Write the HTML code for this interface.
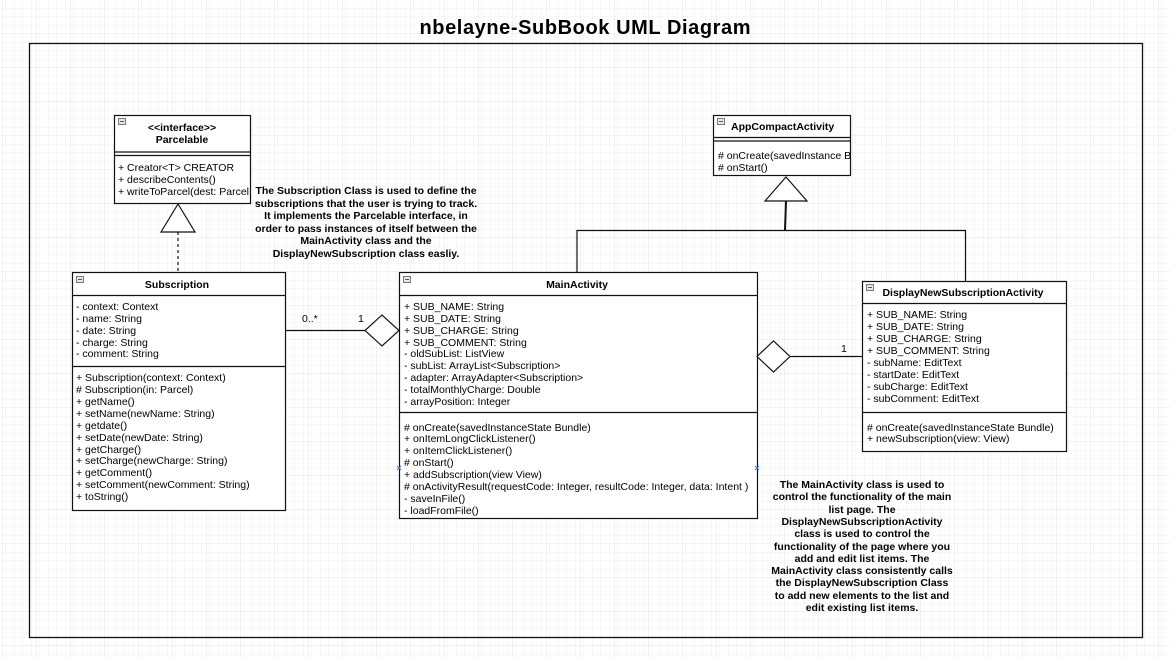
<!DOCTYPE html>
<html><head><meta charset="utf-8"><style>
html,body{margin:0;padding:0;background:#fff}
svg{display:block}
text{font-family:"Liberation Sans",Arial,sans-serif;font-size:10.5px;fill:#000}
.b{font-weight:bold}
</style></head><body>
<svg width="1170" height="658" viewBox="0 0 1170 658" xmlns="http://www.w3.org/2000/svg">
<defs>
<pattern id="mi" width="8.5" height="8.5" patternUnits="userSpaceOnUse" x="3" y="0">
<path d="M8.5 0V8.5M0 8.5H8.5" fill="none" stroke="#f1f1f1" stroke-width="1"/>
</pattern>
<pattern id="ma" width="34" height="34" patternUnits="userSpaceOnUse" x="3" y="0">
<rect width="34" height="34" fill="url(#mi)"/>
<path d="M34 0V34M0 34H34" fill="none" stroke="#e4e4e4" stroke-width="1"/>
</pattern>
<g id="ico"><rect x="0.5" y="0.5" width="7" height="6" fill="#e8e8e8" stroke="#777" stroke-width="1"/><line x1="2" y1="3.5" x2="6" y2="3.5" stroke="#555"/></g>
</defs>
<rect width="1170" height="658" fill="url(#ma)"/>
<text x="585" y="34" text-anchor="middle" class="b" style="font-size:20px" textLength="331">nbelayne-SubBook UML Diagram</text>
<rect x="29.5" y="43.5" width="1113" height="594" fill="none" stroke="#111" stroke-width="1.3"/>

<g fill="#fff" stroke="#111" stroke-width="1.2">
<!-- Parcelable -->
<rect x="114.5" y="115.5" width="136" height="88"/>
<!-- AppCompact -->
<rect x="713.5" y="115.5" width="137" height="60"/>
<!-- Subscription -->
<rect x="72.5" y="272.5" width="213" height="238"/>
<!-- MainActivity -->
<rect x="399.5" y="272.5" width="358" height="246"/>
<!-- DisplayNew -->
<rect x="862.5" y="281.5" width="204" height="170"/>
</g>
<g stroke="#111" stroke-width="1.2" fill="none">
<line x1="114" y1="152" x2="251" y2="152"/><line x1="114" y1="155.5" x2="251" y2="155.5"/>
<line x1="713" y1="137.5" x2="851" y2="137.5"/><line x1="713" y1="141" x2="851" y2="141"/>
<line x1="72" y1="295.5" x2="286" y2="295.5"/><line x1="72" y1="366.5" x2="286" y2="366.5"/>
<line x1="399" y1="295.5" x2="758" y2="295.5"/><line x1="399" y1="412.5" x2="758" y2="412.5"/>
<line x1="862" y1="303.5" x2="1067" y2="303.5"/><line x1="862" y1="412.5" x2="1067" y2="412.5"/>
<!-- inheritance Parcelable -->
<polygon points="178,204 161,232 195,232" fill="#fff"/>
<line x1="178" y1="232" x2="178" y2="272" stroke-dasharray="3,3"/>
<!-- inheritance AppCompat -->
<polygon points="786,177 765,201 807,201" fill="#fff"/>
<line x1="786" y1="201" x2="785" y2="230" stroke-width="2"/>
<polyline points="577,272 577,230.5 965.5,230.5 965.5,281"/>
<!-- aggregation Subscription -->
<line x1="285" y1="330.5" x2="365" y2="330.5"/>
<polygon points="365,330.5 382,315 399,330.5 382,346" fill="#fff"/>
<!-- aggregation DisplayNew -->
<polygon points="757,356.5 773.5,341 790,356.5 773.5,372" fill="#fff"/>
<line x1="790" y1="356.5" x2="862" y2="356.5"/>
</g>
<use href="#ico" x="118" y="118"/><use href="#ico" x="717" y="118"/><use href="#ico" x="76" y="276"/><use href="#ico" x="403" y="276"/><use href="#ico" x="866" y="284"/>
<g stroke="#3a7bd5" stroke-width="1"><path d="M397 466l4 4M401 466l-4 4M755 466l4 4M759 466l-4 4"/></g>

<text x="182" y="131" text-anchor="middle" class="b">&lt;&lt;interface&gt;&gt;</text>
<text x="182" y="143" text-anchor="middle" class="b">Parcelable</text>
<text x="118" y="171">+ Creator&lt;T&gt; CREATOR</text>
<text x="118" y="183">+ describeContents()</text>
<text x="118" y="195">+ writeToParcel(dest: Parcel</text>

<text x="731" y="130" class="b">AppCompactActivity</text>
<text x="718" y="159">#  onCreate(savedInstance B</text>
<text x="718" y="171"># onStart()</text>

<text x="177" y="288" text-anchor="middle" class="b">Subscription</text>
<g>
<text x="76" y="310">- context: Context</text>
<text x="76" y="322">- name: String</text>
<text x="76" y="334">- date: String</text>
<text x="76" y="346">- charge: String</text>
<text x="76" y="357">- comment: String</text>
<text x="76" y="381">+ Subscription(context: Context)</text>
<text x="76" y="393"># Subscription(in: Parcel)</text>
<text x="76" y="405">+ getName()</text>
<text x="76" y="417">+ setName(newName: String)</text>
<text x="76" y="429">+ getdate()</text>
<text x="76" y="441">+ setDate(newDate: String)</text>
<text x="76" y="453">+ getCharge()</text>
<text x="76" y="464">+ setCharge(newCharge: String)</text>
<text x="76" y="476">+ getComment()</text>
<text x="76" y="488">+ setComment(newComment: String)</text>
<text x="76" y="500">+ toString()</text>
</g>

<text x="577" y="288" text-anchor="middle" class="b">MainActivity</text>
<text x="404" y="310">+ SUB_NAME: String</text>
<text x="404" y="322">+ SUB_DATE: String</text>
<text x="404" y="334">+ SUB_CHARGE: String</text>
<text x="404" y="346">+ SUB_COMMENT: String</text>
<text x="404" y="357">- oldSubList: ListView</text>
<text x="404" y="369">- subList: ArrayList&lt;Subscription&gt;</text>
<text x="404" y="381">- adapter: ArrayAdapter&lt;Subscription&gt;</text>
<text x="404" y="393">- totalMonthlyCharge: Double</text>
<text x="404" y="405">- arrayPosition: Integer</text>
<text x="404" y="431"># onCreate(savedInstanceState Bundle)</text>
<text x="404" y="442">+ onItemLongClickListener()</text>
<text x="404" y="454">+ onItemClickListener()</text>
<text x="404" y="466"># onStart()</text>
<text x="404" y="478">+ addSubscription(view View)</text>
<text x="404" y="490"># onActivityResult(requestCode: Integer, resultCode: Integer, data: Intent )</text>
<text x="404" y="502">- saveInFile()</text>
<text x="404" y="514">- loadFromFile()</text>

<text x="963" y="296" text-anchor="middle" class="b">DisplayNewSubscriptionActivity</text>
<text x="867" y="318">+ SUB_NAME: String</text>
<text x="867" y="330">+ SUB_DATE: String</text>
<text x="867" y="342">+ SUB_CHARGE: String</text>
<text x="867" y="354">+ SUB_COMMENT: String</text>
<text x="867" y="366">- subName: EditText</text>
<text x="867" y="378">- startDate: EditText</text>
<text x="867" y="390">- subCharge: EditText</text>
<text x="867" y="402">- subComment: EditText</text>
<text x="867" y="431"># onCreate(savedInstanceState Bundle)</text>
<text x="867" y="442">+ newSubscription(view: View)</text>

<text x="302" y="322">0..*</text>
<text x="358" y="322">1</text>
<text x="841" y="352">1</text>

<g class="b" text-anchor="middle" style="font-size:10px">
<text x="366" y="194" class="b">The Subscription Class is used to define the</text>
<text x="366" y="207" class="b">subscriptions that the user is trying to track.</text>
<text x="366" y="219" class="b">It implements the Parcelable interface, in</text>
<text x="366" y="232" class="b">order to pass instances of itself between the</text>
<text x="366" y="244" class="b">MainActivity class and the</text>
<text x="366" y="257" class="b">DisplayNewSubscription class easliy.</text>
</g>
<g text-anchor="middle" style="font-size:10px">
<text x="862" y="488" class="b">The MainActivity class is used to</text>
<text x="862" y="500" class="b">control the functionality of the main</text>
<text x="862" y="513" class="b">list page. The</text>
<text x="862" y="525" class="b">DisplayNewSubscriptionActivity</text>
<text x="862" y="537" class="b">class is used to control the</text>
<text x="862" y="550" class="b">functionality of the page where you</text>
<text x="862" y="562" class="b">add and edit list items. The</text>
<text x="862" y="574" class="b">MainActivity class consistently calls</text>
<text x="862" y="586" class="b">the DisplayNewSubscription Class</text>
<text x="862" y="599" class="b">to add new elements to the list and</text>
<text x="862" y="611" class="b">edit existing list items.</text>
</g>
</svg>
</body></html>
